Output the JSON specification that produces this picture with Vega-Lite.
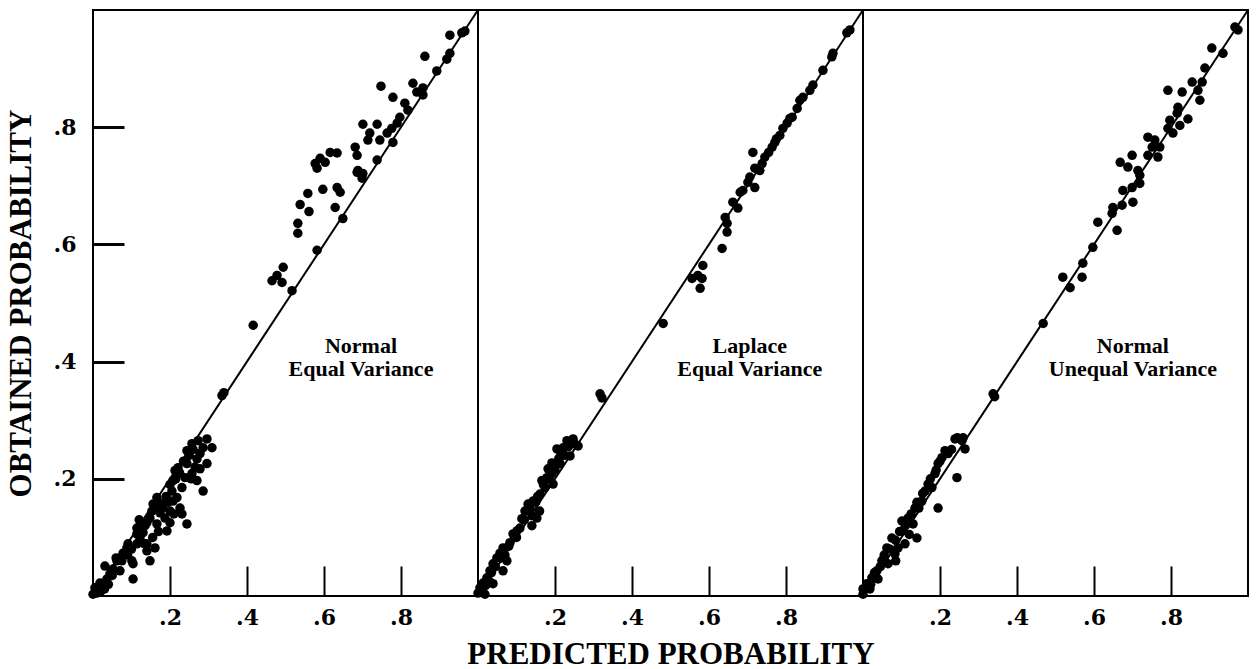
{
  "$schema": "https://vega.github.io/schema/vega-lite/v6.json",
  "background": "white",
  "padding": {"left": 4, "top": 8, "right": 5, "bottom": 0},
  "spacing": 0,
  "bounds": "flush",
  "datasets": {
    "normal_equal": [
      {"predicted": 0.927, "obtained": 0.957}, {"predicted": 0.966, "obtained": 0.964}, {"predicted": 0.958, "obtained": 0.961},
      {"predicted": 0.862, "obtained": 0.921}, {"predicted": 0.927, "obtained": 0.926}, {"predicted": 0.919, "obtained": 0.916},
      {"predicted": 0.893, "obtained": 0.896}, {"predicted": 0.748, "obtained": 0.870}, {"predicted": 0.779, "obtained": 0.851},
      {"predicted": 0.831, "obtained": 0.875}, {"predicted": 0.857, "obtained": 0.867}, {"predicted": 0.857, "obtained": 0.855},
      {"predicted": 0.841, "obtained": 0.860}, {"predicted": 0.810, "obtained": 0.841}, {"predicted": 0.818, "obtained": 0.829},
      {"predicted": 0.797, "obtained": 0.817}, {"predicted": 0.790, "obtained": 0.807}, {"predicted": 0.776, "obtained": 0.798},
      {"predicted": 0.779, "obtained": 0.774}, {"predicted": 0.701, "obtained": 0.805}, {"predicted": 0.738, "obtained": 0.805},
      {"predicted": 0.719, "obtained": 0.790}, {"predicted": 0.714, "obtained": 0.778}, {"predicted": 0.745, "obtained": 0.778},
      {"predicted": 0.764, "obtained": 0.790}, {"predicted": 0.738, "obtained": 0.744}, {"predicted": 0.681, "obtained": 0.766},
      {"predicted": 0.686, "obtained": 0.752}, {"predicted": 0.688, "obtained": 0.726}, {"predicted": 0.701, "obtained": 0.721},
      {"predicted": 0.699, "obtained": 0.713}, {"predicted": 0.686, "obtained": 0.723}, {"predicted": 0.616, "obtained": 0.757},
      {"predicted": 0.634, "obtained": 0.756}, {"predicted": 0.590, "obtained": 0.747}, {"predicted": 0.582, "obtained": 0.730},
      {"predicted": 0.577, "obtained": 0.738}, {"predicted": 0.603, "obtained": 0.740}, {"predicted": 0.597, "obtained": 0.694},
      {"predicted": 0.558, "obtained": 0.687}, {"predicted": 0.634, "obtained": 0.697}, {"predicted": 0.642, "obtained": 0.689},
      {"predicted": 0.629, "obtained": 0.663}, {"predicted": 0.538, "obtained": 0.668}, {"predicted": 0.561, "obtained": 0.656},
      {"predicted": 0.532, "obtained": 0.636}, {"predicted": 0.532, "obtained": 0.619}, {"predicted": 0.649, "obtained": 0.644},
      {"predicted": 0.582, "obtained": 0.590}, {"predicted": 0.494, "obtained": 0.561}, {"predicted": 0.465, "obtained": 0.538},
      {"predicted": 0.478, "obtained": 0.547}, {"predicted": 0.491, "obtained": 0.535}, {"predicted": 0.517, "obtained": 0.521},
      {"predicted": 0.416, "obtained": 0.462}, {"predicted": 0.335, "obtained": 0.342}, {"predicted": 0.340, "obtained": 0.347},
      {"predicted": 0.000, "obtained": 0.003}, {"predicted": 0.010, "obtained": 0.005}, {"predicted": 0.018, "obtained": 0.014},
      {"predicted": 0.005, "obtained": 0.014}, {"predicted": 0.026, "obtained": 0.021}, {"predicted": 0.036, "obtained": 0.029},
      {"predicted": 0.018, "obtained": 0.022}, {"predicted": 0.044, "obtained": 0.038}, {"predicted": 0.031, "obtained": 0.051},
      {"predicted": 0.052, "obtained": 0.046}, {"predicted": 0.070, "obtained": 0.043}, {"predicted": 0.062, "obtained": 0.060},
      {"predicted": 0.078, "obtained": 0.073}, {"predicted": 0.088, "obtained": 0.082}, {"predicted": 0.101, "obtained": 0.060},
      {"predicted": 0.104, "obtained": 0.029}, {"predicted": 0.104, "obtained": 0.055}, {"predicted": 0.114, "obtained": 0.089},
      {"predicted": 0.114, "obtained": 0.106}, {"predicted": 0.122, "obtained": 0.099}, {"predicted": 0.114, "obtained": 0.116},
      {"predicted": 0.130, "obtained": 0.108}, {"predicted": 0.140, "obtained": 0.089}, {"predicted": 0.140, "obtained": 0.077},
      {"predicted": 0.148, "obtained": 0.060}, {"predicted": 0.161, "obtained": 0.082}, {"predicted": 0.140, "obtained": 0.125},
      {"predicted": 0.148, "obtained": 0.133}, {"predicted": 0.153, "obtained": 0.145}, {"predicted": 0.166, "obtained": 0.123},
      {"predicted": 0.174, "obtained": 0.142}, {"predicted": 0.182, "obtained": 0.157}, {"predicted": 0.187, "obtained": 0.133},
      {"predicted": 0.192, "obtained": 0.111}, {"predicted": 0.200, "obtained": 0.145}, {"predicted": 0.208, "obtained": 0.162},
      {"predicted": 0.205, "obtained": 0.179}, {"predicted": 0.218, "obtained": 0.168}, {"predicted": 0.226, "obtained": 0.150},
      {"predicted": 0.231, "obtained": 0.140}, {"predicted": 0.244, "obtained": 0.123}, {"predicted": 0.208, "obtained": 0.197},
      {"predicted": 0.213, "obtained": 0.214}, {"predicted": 0.221, "obtained": 0.219}, {"predicted": 0.231, "obtained": 0.185},
      {"predicted": 0.239, "obtained": 0.202}, {"predicted": 0.244, "obtained": 0.226}, {"predicted": 0.257, "obtained": 0.209},
      {"predicted": 0.270, "obtained": 0.197}, {"predicted": 0.286, "obtained": 0.179}, {"predicted": 0.244, "obtained": 0.248},
      {"predicted": 0.257, "obtained": 0.260}, {"predicted": 0.273, "obtained": 0.265}, {"predicted": 0.296, "obtained": 0.268},
      {"predicted": 0.286, "obtained": 0.253}, {"predicted": 0.309, "obtained": 0.253}, {"predicted": 0.296, "obtained": 0.226},
      {"predicted": 0.270, "obtained": 0.234}, {"predicted": 0.278, "obtained": 0.243}, {"predicted": 0.278, "obtained": 0.217},
      {"predicted": 0.156, "obtained": 0.157}, {"predicted": 0.166, "obtained": 0.168}, {"predicted": 0.127, "obtained": 0.123},
      {"predicted": 0.091, "obtained": 0.089}, {"predicted": 0.060, "obtained": 0.065}, {"predicted": 0.008, "obtained": 0.010},
      {"predicted": 0.195, "obtained": 0.160}, {"predicted": 0.210, "obtained": 0.140}, {"predicted": 0.180, "obtained": 0.150},
      {"predicted": 0.120, "obtained": 0.130}, {"predicted": 0.135, "obtained": 0.120}, {"predicted": 0.160, "obtained": 0.150},
      {"predicted": 0.170, "obtained": 0.160}, {"predicted": 0.190, "obtained": 0.170}, {"predicted": 0.200, "obtained": 0.190},
      {"predicted": 0.215, "obtained": 0.200}, {"predicted": 0.225, "obtained": 0.210}, {"predicted": 0.235, "obtained": 0.230},
      {"predicted": 0.250, "obtained": 0.240}, {"predicted": 0.260, "obtained": 0.250}, {"predicted": 0.265, "obtained": 0.220},
      {"predicted": 0.255, "obtained": 0.200}, {"predicted": 0.200, "obtained": 0.125}, {"predicted": 0.170, "obtained": 0.110},
      {"predicted": 0.155, "obtained": 0.100}, {"predicted": 0.130, "obtained": 0.090}, {"predicted": 0.100, "obtained": 0.080},
      {"predicted": 0.090, "obtained": 0.070}, {"predicted": 0.075, "obtained": 0.060}, {"predicted": 0.050, "obtained": 0.035},
      {"predicted": 0.040, "obtained": 0.020}, {"predicted": 0.020, "obtained": 0.008}, {"predicted": 0.030, "obtained": 0.012}
    ],
    "laplace_equal": [
      {"predicted": 0.966, "obtained": 0.966}, {"predicted": 0.958, "obtained": 0.961}, {"predicted": 0.922, "obtained": 0.926},
      {"predicted": 0.919, "obtained": 0.920}, {"predicted": 0.896, "obtained": 0.897}, {"predicted": 0.870, "obtained": 0.872},
      {"predicted": 0.862, "obtained": 0.863}, {"predicted": 0.844, "obtained": 0.851}, {"predicted": 0.836, "obtained": 0.846},
      {"predicted": 0.829, "obtained": 0.832}, {"predicted": 0.816, "obtained": 0.817}, {"predicted": 0.803, "obtained": 0.807},
      {"predicted": 0.792, "obtained": 0.798}, {"predicted": 0.784, "obtained": 0.786}, {"predicted": 0.771, "obtained": 0.774},
      {"predicted": 0.764, "obtained": 0.766}, {"predicted": 0.745, "obtained": 0.749}, {"predicted": 0.738, "obtained": 0.738},
      {"predicted": 0.732, "obtained": 0.726}, {"predicted": 0.714, "obtained": 0.757}, {"predicted": 0.719, "obtained": 0.730},
      {"predicted": 0.706, "obtained": 0.715}, {"predicted": 0.701, "obtained": 0.706}, {"predicted": 0.719, "obtained": 0.697},
      {"predicted": 0.688, "obtained": 0.692}, {"predicted": 0.681, "obtained": 0.689}, {"predicted": 0.662, "obtained": 0.672},
      {"predicted": 0.675, "obtained": 0.662}, {"predicted": 0.642, "obtained": 0.646}, {"predicted": 0.647, "obtained": 0.636},
      {"predicted": 0.647, "obtained": 0.621}, {"predicted": 0.634, "obtained": 0.593}, {"predicted": 0.584, "obtained": 0.564},
      {"predicted": 0.556, "obtained": 0.542}, {"predicted": 0.571, "obtained": 0.547}, {"predicted": 0.582, "obtained": 0.542},
      {"predicted": 0.577, "obtained": 0.525}, {"predicted": 0.481, "obtained": 0.465}, {"predicted": 0.810, "obtained": 0.815},
      {"predicted": 0.775, "obtained": 0.780}, {"predicted": 0.755, "obtained": 0.757},
      {"predicted": 0.317, "obtained": 0.345}, {"predicted": 0.322, "obtained": 0.338}, {"predicted": 0.260, "obtained": 0.256},
      {"predicted": 0.247, "obtained": 0.268}, {"predicted": 0.231, "obtained": 0.265}, {"predicted": 0.205, "obtained": 0.251},
      {"predicted": 0.221, "obtained": 0.253}, {"predicted": 0.239, "obtained": 0.239}, {"predicted": 0.213, "obtained": 0.226},
      {"predicted": 0.192, "obtained": 0.209}, {"predicted": 0.182, "obtained": 0.217}, {"predicted": 0.195, "obtained": 0.191},
      {"predicted": 0.174, "obtained": 0.185}, {"predicted": 0.161, "obtained": 0.174}, {"predicted": 0.143, "obtained": 0.162},
      {"predicted": 0.130, "obtained": 0.157}, {"predicted": 0.122, "obtained": 0.145}, {"predicted": 0.153, "obtained": 0.133},
      {"predicted": 0.140, "obtained": 0.137}, {"predicted": 0.114, "obtained": 0.132}, {"predicted": 0.109, "obtained": 0.116},
      {"predicted": 0.091, "obtained": 0.106}, {"predicted": 0.083, "obtained": 0.091}, {"predicted": 0.065, "obtained": 0.082},
      {"predicted": 0.057, "obtained": 0.073}, {"predicted": 0.049, "obtained": 0.065}, {"predicted": 0.039, "obtained": 0.055},
      {"predicted": 0.065, "obtained": 0.043}, {"predicted": 0.031, "obtained": 0.043}, {"predicted": 0.023, "obtained": 0.031},
      {"predicted": 0.013, "obtained": 0.022}, {"predicted": 0.005, "obtained": 0.014}, {"predicted": 0.000, "obtained": 0.005},
      {"predicted": 0.018, "obtained": 0.003}, {"predicted": 0.039, "obtained": 0.021}, {"predicted": 0.075, "obtained": 0.060},
      {"predicted": 0.101, "obtained": 0.111}, {"predicted": 0.166, "obtained": 0.197}, {"predicted": 0.179, "obtained": 0.202},
      {"predicted": 0.192, "obtained": 0.227}, {"predicted": 0.100, "obtained": 0.100}, {"predicted": 0.070, "obtained": 0.070},
      {"predicted": 0.030, "obtained": 0.025}, {"predicted": 0.010, "obtained": 0.008}, {"predicted": 0.150, "obtained": 0.160},
      {"predicted": 0.200, "obtained": 0.215}, {"predicted": 0.225, "obtained": 0.240},
      {"predicted": 0.020, "obtained": 0.018}, {"predicted": 0.035, "obtained": 0.040}, {"predicted": 0.045, "obtained": 0.050},
      {"predicted": 0.060, "obtained": 0.065}, {"predicted": 0.080, "obtained": 0.085}, {"predicted": 0.095, "obtained": 0.100},
      {"predicted": 0.120, "obtained": 0.130}, {"predicted": 0.135, "obtained": 0.150}, {"predicted": 0.155, "obtained": 0.170},
      {"predicted": 0.170, "obtained": 0.190}, {"predicted": 0.185, "obtained": 0.200}, {"predicted": 0.210, "obtained": 0.235},
      {"predicted": 0.235, "obtained": 0.255}, {"predicted": 0.250, "obtained": 0.260}, {"predicted": 0.215, "obtained": 0.245},
      {"predicted": 0.140, "obtained": 0.120}, {"predicted": 0.160, "obtained": 0.145}
    ],
    "normal_unequal": [
      {"predicted": 0.966, "obtained": 0.971}, {"predicted": 0.974, "obtained": 0.966}, {"predicted": 0.906, "obtained": 0.935},
      {"predicted": 0.935, "obtained": 0.926}, {"predicted": 0.888, "obtained": 0.901}, {"predicted": 0.855, "obtained": 0.877},
      {"predicted": 0.881, "obtained": 0.877}, {"predicted": 0.870, "obtained": 0.863}, {"predicted": 0.875, "obtained": 0.846},
      {"predicted": 0.792, "obtained": 0.863}, {"predicted": 0.829, "obtained": 0.860}, {"predicted": 0.818, "obtained": 0.834},
      {"predicted": 0.816, "obtained": 0.824}, {"predicted": 0.844, "obtained": 0.814}, {"predicted": 0.823, "obtained": 0.803},
      {"predicted": 0.797, "obtained": 0.812}, {"predicted": 0.792, "obtained": 0.798}, {"predicted": 0.805, "obtained": 0.790},
      {"predicted": 0.740, "obtained": 0.783}, {"predicted": 0.758, "obtained": 0.778}, {"predicted": 0.751, "obtained": 0.766},
      {"predicted": 0.771, "obtained": 0.766}, {"predicted": 0.740, "obtained": 0.752}, {"predicted": 0.766, "obtained": 0.749},
      {"predicted": 0.699, "obtained": 0.752}, {"predicted": 0.668, "obtained": 0.740}, {"predicted": 0.688, "obtained": 0.732},
      {"predicted": 0.714, "obtained": 0.726}, {"predicted": 0.719, "obtained": 0.718}, {"predicted": 0.719, "obtained": 0.704},
      {"predicted": 0.699, "obtained": 0.697}, {"predicted": 0.675, "obtained": 0.692}, {"predicted": 0.701, "obtained": 0.672},
      {"predicted": 0.673, "obtained": 0.667}, {"predicted": 0.649, "obtained": 0.663}, {"predicted": 0.647, "obtained": 0.653},
      {"predicted": 0.610, "obtained": 0.638}, {"predicted": 0.660, "obtained": 0.624}, {"predicted": 0.597, "obtained": 0.595},
      {"predicted": 0.571, "obtained": 0.568}, {"predicted": 0.569, "obtained": 0.544}, {"predicted": 0.519, "obtained": 0.544},
      {"predicted": 0.538, "obtained": 0.526}, {"predicted": 0.468, "obtained": 0.465},
      {"predicted": 0.338, "obtained": 0.345}, {"predicted": 0.342, "obtained": 0.340}, {"predicted": 0.257, "obtained": 0.265},
      {"predicted": 0.239, "obtained": 0.268}, {"predicted": 0.265, "obtained": 0.251}, {"predicted": 0.213, "obtained": 0.248},
      {"predicted": 0.244, "obtained": 0.202}, {"predicted": 0.195, "obtained": 0.226}, {"predicted": 0.187, "obtained": 0.209},
      {"predicted": 0.169, "obtained": 0.191}, {"predicted": 0.195, "obtained": 0.150}, {"predicted": 0.153, "obtained": 0.162},
      {"predicted": 0.135, "obtained": 0.150}, {"predicted": 0.117, "obtained": 0.133}, {"predicted": 0.140, "obtained": 0.099},
      {"predicted": 0.130, "obtained": 0.123}, {"predicted": 0.101, "obtained": 0.111}, {"predicted": 0.075, "obtained": 0.099},
      {"predicted": 0.062, "obtained": 0.082}, {"predicted": 0.091, "obtained": 0.082}, {"predicted": 0.065, "obtained": 0.055},
      {"predicted": 0.049, "obtained": 0.060}, {"predicted": 0.036, "obtained": 0.043}, {"predicted": 0.023, "obtained": 0.031},
      {"predicted": 0.010, "obtained": 0.021}, {"predicted": 0.000, "obtained": 0.012}, {"predicted": 0.000, "obtained": 0.003},
      {"predicted": 0.018, "obtained": 0.012}, {"predicted": 0.039, "obtained": 0.029}, {"predicted": 0.083, "obtained": 0.072},
      {"predicted": 0.109, "obtained": 0.089}, {"predicted": 0.161, "obtained": 0.179}, {"predicted": 0.179, "obtained": 0.185},
      {"predicted": 0.205, "obtained": 0.236}, {"predicted": 0.221, "obtained": 0.243}, {"predicted": 0.101, "obtained": 0.128},
      {"predicted": 0.145, "obtained": 0.150}, {"predicted": 0.055, "obtained": 0.065}, {"predicted": 0.028, "obtained": 0.033},
      {"predicted": 0.020, "obtained": 0.020}, {"predicted": 0.030, "obtained": 0.040}, {"predicted": 0.045, "obtained": 0.050},
      {"predicted": 0.055, "obtained": 0.070}, {"predicted": 0.070, "obtained": 0.080}, {"predicted": 0.085, "obtained": 0.095},
      {"predicted": 0.095, "obtained": 0.110}, {"predicted": 0.110, "obtained": 0.120}, {"predicted": 0.125, "obtained": 0.140},
      {"predicted": 0.140, "obtained": 0.160}, {"predicted": 0.155, "obtained": 0.175}, {"predicted": 0.175, "obtained": 0.200},
      {"predicted": 0.190, "obtained": 0.215}, {"predicted": 0.200, "obtained": 0.230}, {"predicted": 0.230, "obtained": 0.250},
      {"predicted": 0.245, "obtained": 0.270}, {"predicted": 0.260, "obtained": 0.270}, {"predicted": 0.120, "obtained": 0.105},
      {"predicted": 0.085, "obtained": 0.060}
    ]
  },
  "hconcat": [
    {
      "width": 385, "height": 586,
      "layer": [
        {
          "data": {"name": "normal_equal"},
          "mark": {"type": "circle", "color": "black", "opacity": 1, "size": 90},
          "encoding": {
            "x": {"field": "predicted", "type": "quantitative", "scale": {"domain": [0, 1], "nice": false},
                  "axis": {"values": [0.2, 0.4, 0.6, 0.8], "labelExpr": "replace(format(datum.value, '.1f'), '0.', '.')", "title": null}},
            "y": {"field": "obtained", "type": "quantitative", "scale": {"domain": [0, 1], "nice": false},
                  "axis": {"values": [0.2, 0.4, 0.6, 0.8], "labelExpr": "replace(format(datum.value, '.1f'), '0.', '.')", "title": "OBTAINED PROBABILITY", "labelPadding": 48, "titlePadding": 16, "tickSize": -31, "tickColor": "#050505", "tickWidth": 3}}
          }
        },
        {
          "data": {"values": [{}]},
          "mark": {"type": "rule", "color": "black", "strokeWidth": 2},
          "encoding": {
            "x": {"datum": 0, "type": "quantitative", "scale": {"domain": [0, 1], "nice": false},
                  "axis": {"values": [0.2, 0.4, 0.6, 0.8], "labelExpr": "replace(format(datum.value, '.1f'), '0.', '.')", "title": null}},
            "y": {"datum": 0, "type": "quantitative", "scale": {"domain": [0, 1], "nice": false},
                  "axis": {"values": [0.2, 0.4, 0.6, 0.8], "labelExpr": "replace(format(datum.value, '.1f'), '0.', '.')", "title": "OBTAINED PROBABILITY", "labelPadding": 48, "titlePadding": 16, "tickSize": -31, "tickColor": "#050505", "tickWidth": 3}},
            "x2": {"datum": 1}, "y2": {"datum": 1}
          }
        },
        {
          "data": {"values": [{}]},
          "mark": {"type": "text", "font": "Liberation Serif", "fontWeight": "bold", "fontSize": 22, "lineHeight": 23, "align": "center", "baseline": "alphabetic", "color": "black"},
          "encoding": {
            "x": {"datum": 0.696, "type": "quantitative", "scale": {"domain": [0, 1], "nice": false},
                  "axis": {"values": [0.2, 0.4, 0.6, 0.8], "labelExpr": "replace(format(datum.value, '.1f'), '0.', '.')", "title": null}},
            "y": {"datum": 0.415, "type": "quantitative", "scale": {"domain": [0, 1], "nice": false},
                  "axis": {"values": [0.2, 0.4, 0.6, 0.8], "labelExpr": "replace(format(datum.value, '.1f'), '0.', '.')", "title": "OBTAINED PROBABILITY", "labelPadding": 48, "titlePadding": 16, "tickSize": -31, "tickColor": "#050505", "tickWidth": 3}},
            "text": {"value": ["Normal", "Equal Variance"]}
          }
        }
      ]
    },
    {
      "width": 385, "height": 586,
      "layer": [
        {
          "data": {"name": "laplace_equal"},
          "mark": {"type": "circle", "color": "black", "opacity": 1, "size": 90},
          "encoding": {
            "x": {"field": "predicted", "type": "quantitative", "scale": {"domain": [0, 1], "nice": false},
                  "axis": {"values": [0.2, 0.4, 0.6, 0.8], "labelExpr": "replace(format(datum.value, '.1f'), '0.', '.')", "title": "PREDICTED PROBABILITY"}},
            "y": {"field": "obtained", "type": "quantitative", "scale": {"domain": [0, 1], "nice": false},
                  "axis": {"values": [], "labels": false, "ticks": false, "title": null}}
          }
        },
        {
          "data": {"values": [{}]},
          "mark": {"type": "rule", "color": "black", "strokeWidth": 2},
          "encoding": {
            "x": {"datum": 0, "type": "quantitative", "scale": {"domain": [0, 1], "nice": false},
                  "axis": {"values": [0.2, 0.4, 0.6, 0.8], "labelExpr": "replace(format(datum.value, '.1f'), '0.', '.')", "title": "PREDICTED PROBABILITY"}},
            "y": {"datum": 0, "type": "quantitative", "scale": {"domain": [0, 1], "nice": false},
                  "axis": {"values": [], "labels": false, "ticks": false, "title": null}},
            "x2": {"datum": 1}, "y2": {"datum": 1}
          }
        },
        {
          "data": {"values": [{}]},
          "mark": {"type": "text", "font": "Liberation Serif", "fontWeight": "bold", "fontSize": 22, "lineHeight": 23, "align": "center", "baseline": "alphabetic", "color": "black"},
          "encoding": {
            "x": {"datum": 0.706, "type": "quantitative", "scale": {"domain": [0, 1], "nice": false},
                  "axis": {"values": [0.2, 0.4, 0.6, 0.8], "labelExpr": "replace(format(datum.value, '.1f'), '0.', '.')", "title": "PREDICTED PROBABILITY"}},
            "y": {"datum": 0.415, "type": "quantitative", "scale": {"domain": [0, 1], "nice": false},
                  "axis": {"values": [], "labels": false, "ticks": false, "title": null}},
            "text": {"value": ["Laplace", "Equal Variance"]}
          }
        }
      ]
    },
    {
      "width": 385, "height": 586,
      "layer": [
        {
          "data": {"name": "normal_unequal"},
          "mark": {"type": "circle", "color": "black", "opacity": 1, "size": 90},
          "encoding": {
            "x": {"field": "predicted", "type": "quantitative", "scale": {"domain": [0, 1], "nice": false},
                  "axis": {"values": [0.2, 0.4, 0.6, 0.8], "labelExpr": "replace(format(datum.value, '.1f'), '0.', '.')", "title": null}},
            "y": {"field": "obtained", "type": "quantitative", "scale": {"domain": [0, 1], "nice": false},
                  "axis": {"values": [], "labels": false, "ticks": false, "title": null}}
          }
        },
        {
          "data": {"values": [{}]},
          "mark": {"type": "rule", "color": "black", "strokeWidth": 2},
          "encoding": {
            "x": {"datum": 0, "type": "quantitative", "scale": {"domain": [0, 1], "nice": false},
                  "axis": {"values": [0.2, 0.4, 0.6, 0.8], "labelExpr": "replace(format(datum.value, '.1f'), '0.', '.')", "title": null}},
            "y": {"datum": 0, "type": "quantitative", "scale": {"domain": [0, 1], "nice": false},
                  "axis": {"values": [], "labels": false, "ticks": false, "title": null}},
            "x2": {"datum": 1}, "y2": {"datum": 1}
          }
        },
        {
          "data": {"values": [{}]},
          "mark": {"type": "text", "font": "Liberation Serif", "fontWeight": "bold", "fontSize": 22, "lineHeight": 23, "align": "center", "baseline": "alphabetic", "color": "black"},
          "encoding": {
            "x": {"datum": 0.701, "type": "quantitative", "scale": {"domain": [0, 1], "nice": false},
                  "axis": {"values": [0.2, 0.4, 0.6, 0.8], "labelExpr": "replace(format(datum.value, '.1f'), '0.', '.')", "title": null}},
            "y": {"datum": 0.415, "type": "quantitative", "scale": {"domain": [0, 1], "nice": false},
                  "axis": {"values": [], "labels": false, "ticks": false, "title": null}},
            "text": {"value": ["Normal", "Unequal Variance"]}
          }
        }
      ]
    }
  ],
  "config": {
    "view": {"stroke": "black", "strokeWidth": 2},
    "axis": {
      "domain": false, "grid": false, "ticks": true, "tickColor": "black", "tickWidth": 2, "tickSize": -30,
      "labelPadding": 41, "titlePadding": 11, "labelFont": "DejaVu Serif", "labelFontWeight": "bold", "labelFontSize": 22, "labelColor": "black",
      "titleFont": "Liberation Serif", "titleFontSize": 31, "titleFontWeight": "bold", "titleColor": "black"
    }
  }
}
